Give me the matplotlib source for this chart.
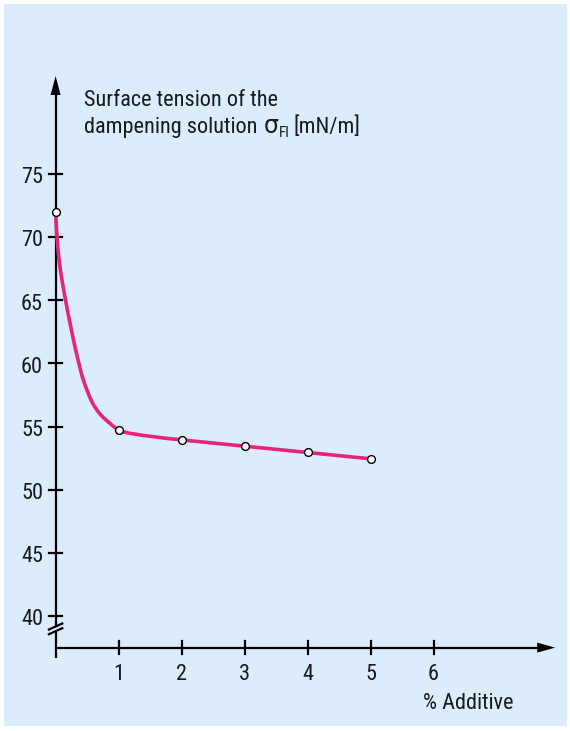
import matplotlib.pyplot as plt
from matplotlib.patches import Rectangle, Polygon, PathPatch
from matplotlib.path import Path

FAM = ['Roboto Condensed', 'Roboto', 'DejaVu Sans']
plt.rcParams['font.family'] = FAM

# measured points
additive = [0, 1, 2, 3, 4, 5]
tension = [72.0, 54.75, 53.95, 53.45, 52.95, 52.45]

# the drawn curve
curve_x = [0, 0.022, 0.06, 0.105, 0.16, 0.22, 0.285, 0.35, 0.44, 0.573, 0.705, 0.864, 1.0,
           1.18, 1.6, 2, 3, 4, 5]
curve_y = [72.0, 70.0, 68.0, 66.5, 64.95, 63.4, 61.85, 60.4, 58.7, 57.0, 56.0, 55.25, 54.75,
           54.47, 54.17, 53.95, 53.45, 52.95, 52.45]

yticks = [40, 45, 50, 55, 60, 65, 70, 75]
xticks = [1, 2, 3, 4, 5, 6]

BG = '#dbedfc'
PINK = '#e6237d'
TXT = '#1a1a1a'
FS = 16

# pixel geometry of the figure
W, H = 570, 731
X0_PX, XU = 55.6, 63.0     # x=0 position, px per % additive
Y75_PX, YU = 174.0, 12.63  # y=75 position, px per mN/m

fig = plt.figure(figsize=(W / 100, H / 100), dpi=100)
fig.patch.set_facecolor('white')

ax = fig.add_axes([0, 0, 1, 1])
ax.patch.set_alpha(0)
ax.axis('off')
ax.set_xlim(-X0_PX / XU, (W - X0_PX) / XU)
ax.set_ylim(75 - (H - Y75_PX) / YU, 75 + Y75_PX / YU)

# light blue panel with a thin white margin
ax.add_patch(Rectangle((4 / W, 1 - 726 / H), 562.7 / W, 722 / H, transform=ax.transAxes,
                       facecolor=BG, edgecolor='none', zorder=0))

px_x = 1 / XU   # one pixel in x data units
px_y = 1 / YU   # one pixel in y data units
base = 37.5     # where the x axis sits (below the break)
ytop = 82.76
xend = 7.93
lw_ax = 1.6

# y axis with a break between base and 40
ax.plot([0, 0], [base - 10 * px_y, 38.85], color='black', lw=lw_ax, solid_capstyle='butt')
ax.plot([0, 0], [39.1, ytop - 15 * px_y], color='black', lw=lw_ax, solid_capstyle='butt')
for c in (38.8, 39.17):
    ax.plot([-6.7 * px_x, 6.7 * px_x], [c - 3 * px_y, c + 3 * px_y], color='black', lw=lw_ax)
ax.add_patch(Polygon([[0, ytop], [-5 * px_x, ytop - 19 * px_y], [5 * px_x, ytop - 19 * px_y]],
                     closed=True, facecolor='black', edgecolor='none'))

# x axis
ax.plot([0, xend - 15 * px_x], [base, base], color='black', lw=lw_ax, solid_capstyle='butt')
ax.add_patch(Polygon([[xend, base], [xend - 18 * px_x, base + 5 * px_y],
                      [xend - 18 * px_x, base - 5 * px_y]],
                     closed=True, facecolor='black', edgecolor='none'))

# ticks and labels
for v in yticks:
    ax.plot([-6.5 * px_x, 6.5 * px_x], [v, v], color='black', lw=lw_ax)
    ax.text(-12.6 * px_x, v - 9.3 * px_y, str(v), ha='right', va='baseline',
            fontsize=FS, color=TXT)
for v in xticks:
    ax.plot([v, v], [base - 6.5 * px_y, base + 6.5 * px_y], color='black', lw=lw_ax)
    ax.text(v, base - 32 * px_y, str(v), ha='center', va='baseline',
            fontsize=FS, color=TXT)

ax.text(5.827, 32.62, '% Additive', ha='left', va='baseline', fontsize=FS, color=TXT)

# y axis title, sigma part placed after the measured end of the text
ax.text(0.451, 80.41, 'Surface tension of the', ha='left', va='baseline',
        fontsize=FS, color=TXT)
t2 = ax.text(0.451, 78.27, 'dampening solution', ha='left', va='baseline',
             fontsize=FS, color=TXT)
fig.canvas.draw()
r = fig.canvas.get_renderer()
inv = ax.transData.inverted()


def right_edge(t, gap):
    return inv.transform((t.get_window_extent(r).x1 + gap, 0))[0]


sig = ax.text(right_edge(t2, 6), 78.27, '\u03c3', ha='left', va='baseline', fontsize=17,
              family=['DejaVu Sans'], color=TXT)
sub = ax.text(right_edge(sig, 0.5), 77.9, 'Fl', ha='left', va='baseline', fontsize=11, color=TXT)
ax.text(right_edge(sub, 4), 78.27, '[mN/m]', ha='left', va='baseline', fontsize=FS, color=TXT)

# smooth curve through the traced points (Catmull-Rom as cubic Beziers)
pts = list(zip(curve_x, curve_y))
verts = [pts[0]]
codes = [Path.MOVETO]
for i in range(len(pts) - 1):
    p0 = pts[max(i - 1, 0)]
    p1 = pts[i]
    p2 = pts[i + 1]
    p3 = pts[min(i + 2, len(pts) - 1)]
    c1 = (p1[0] + (p2[0] - p0[0]) / 6, p1[1] + (p2[1] - p0[1]) / 6)
    c2 = (p2[0] - (p3[0] - p1[0]) / 6, p2[1] - (p3[1] - p1[1]) / 6)
    verts += [c1, c2, p2]
    codes += [Path.CURVE4] * 3
ax.add_patch(PathPatch(Path(verts, codes), facecolor='none', edgecolor=PINK, lw=2.6,
                       capstyle='round', joinstyle='round', zorder=3))

ax.plot(additive, tension, linestyle='none', marker='o', markersize=5.6, zorder=4,
        markerfacecolor='white', markeredgecolor='black', markeredgewidth=1.0)

fig.savefig('out.png', dpi=100, facecolor=fig.get_facecolor())
